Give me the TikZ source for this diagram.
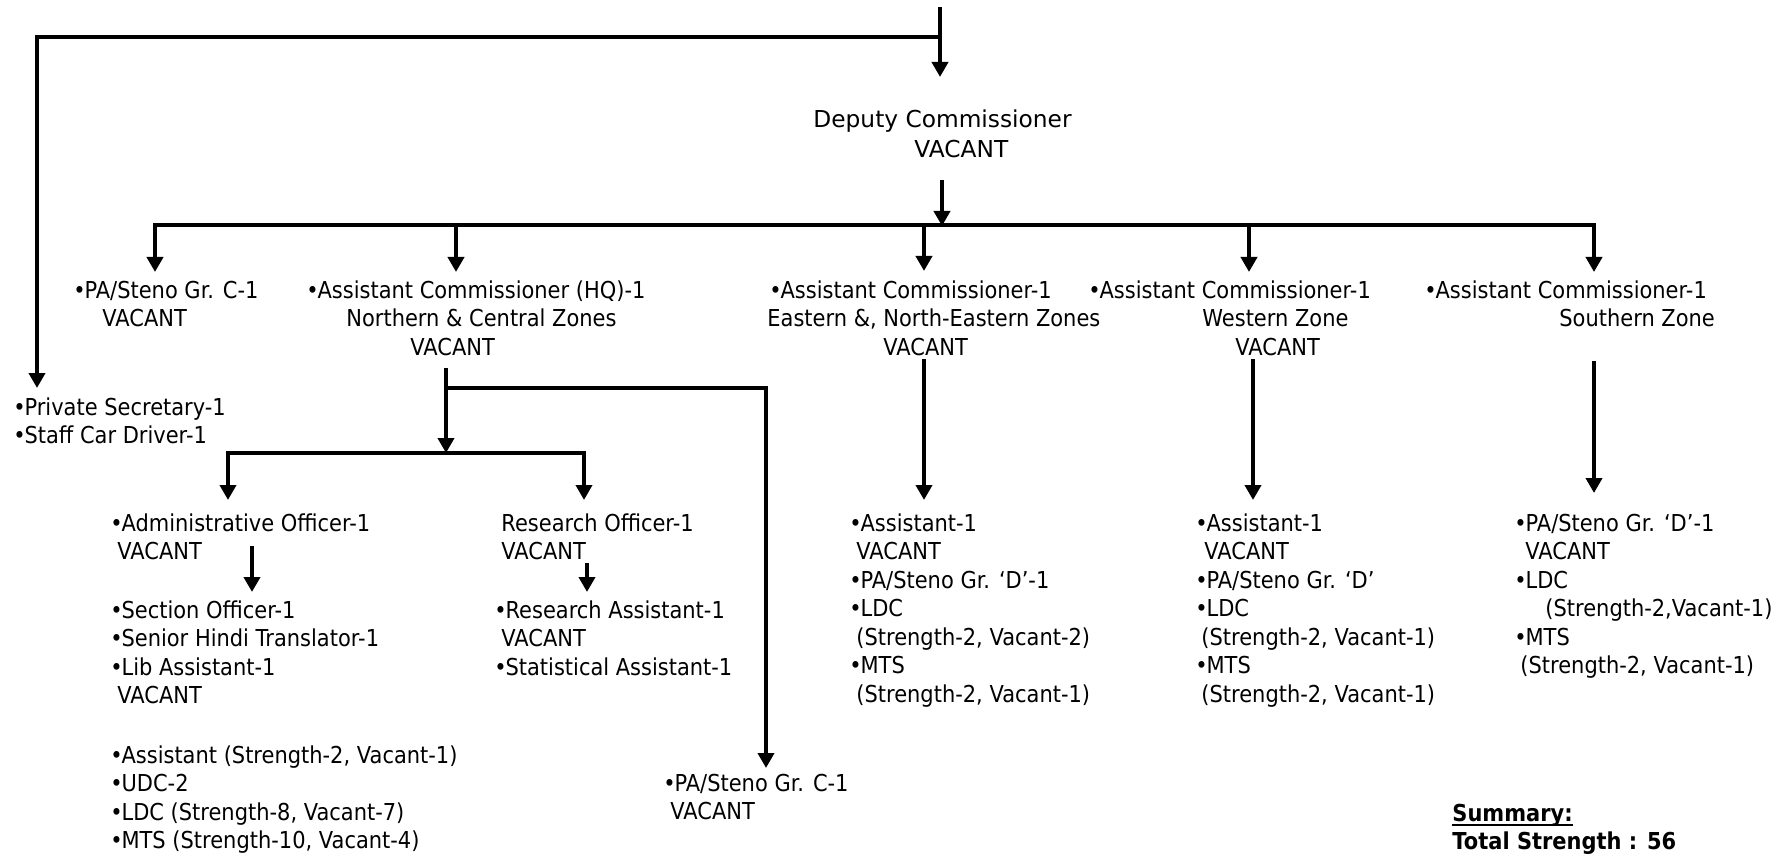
\documentclass[tikz,border=0pt]{standalone}
\usepackage{fontspec}
\setmainfont[FakeStretch=0.9]{DejaVu Sans}
\newfontfamily\widefont{DejaVu Sans}
\usetikzlibrary{arrows.meta}
\newcommand\bu{•\kern-0.6pt}
\newcommand\myul[1]{\setbox0\hbox{#1}\rlap{\rule[-2.4pt]{\wd0}{1.2pt}}\box0}
\begin{document}
\begin{tikzpicture}[x=0.5pt,y=-0.5pt,
  txt/.style={anchor=north west, inner sep=0pt, align=left, font=\fontsize{11.65pt}{14.25pt}\selectfont},
  conn/.style={line width=2pt},
  arr/.style={conn,-{Triangle[width=8pt,length=7.5pt]}},
]
\useasboundingbox (0,0) rectangle (1791,855);

% ---------- text nodes ----------
\node[txt,font=\widefont\fontsize{11.65pt}{15pt}\selectfont] (dc) at (813,106) {\strut Deputy Commissioner\\\hspace*{50.5pt}VACANT};
\node[txt] (pa1) at (73,278) {\strut \bu PA/Steno Gr. C-1\\\hspace*{14.5pt}VACANT};
\node[txt] (hq) at (306,278) {\strut \bu Assistant Commissioner (HQ)-1\\\hspace*{20pt}Northern \& Central Zones\\\hspace*{52pt}VACANT};
\node[txt] (east) at (767,278) {\strut \hspace*{1pt}\bu Assistant Commissioner-1\\Eastern \&, North-Eastern Zones\\\hspace*{58pt}VACANT};
\node[txt] (west) at (1088,278) {\strut \bu Assistant Commissioner-1\\\hspace*{57pt}Western Zone\\\hspace*{73.5pt}VACANT};
\node[txt] (south) at (1424,278) {\strut \bu Assistant Commissioner-1\\\hspace*{67.5pt}Southern Zone};
\node[txt] (ps) at (13,395) {\strut \bu Private Secretary-1\\\bu Staff Car Driver-1};
\node[txt] (ao) at (110,511) {\strut \bu Administrative Officer-1\\\hspace*{3.5pt}VACANT};
\node[txt] (ro) at (501,511) {\strut Research Officer-1\\VACANT};
\node[txt] (so) at (110,598) {\strut \bu Section Officer-1\\\bu Senior Hindi Translator-1\\\bu Lib Assistant-1\\\hspace*{3.5pt}VACANT};
\node[txt] (ra) at (494,598) {\strut \bu Research Assistant-1\\\hspace*{3.5pt}VACANT\\\bu Statistical Assistant-1};
\node[txt] (hqstaff) at (110,743) {\strut \bu Assistant (Strength-2, Vacant-1)\\\bu UDC-2\\\bu LDC (Strength-8, Vacant-7)\\\bu MTS (Strength-10, Vacant-4)};
\node[txt] (pa2) at (663,771) {\strut \bu PA/Steno Gr. C-1\\\hspace*{3.5pt}VACANT};
\node[txt] (eaststaff) at (849,511) {\strut \bu Assistant-1\\\hspace*{3.5pt}VACANT\\\bu PA/Steno Gr. ‘D’-1\\\bu LDC\\\hspace*{3.5pt}(Strength-2, Vacant-2)\\\bu MTS\\\hspace*{3.5pt}(Strength-2, Vacant-1)};
\node[txt] (weststaff) at (1195,511) {\strut \bu Assistant-1\\\hspace*{4.5pt}VACANT\\\bu PA/Steno Gr. ‘D’\\\bu LDC\\\hspace*{3pt}(Strength-2, Vacant-1)\\\bu MTS\\\hspace*{3pt}(Strength-2, Vacant-1)};
\node[txt] (southstaff) at (1514,511) {\strut \bu PA/Steno Gr. ‘D’-1\\\hspace*{5.5pt}VACANT\\\bu LDC\\\hspace*{15.5pt}(Strength-2,Vacant-1)\\\bu MTS\\\hspace*{3pt}(Strength-2, Vacant-1)};
\node[txt,font=\fontsize{11.65pt}{14.25pt}\selectfont\bfseries] (sum) at (1452,801) {\strut \myul{Summary:}\\Total Strength : 56};

% ---------- junction coordinates ----------
\coordinate (top) at (940,7);
\coordinate (topj) at (940,37);
\coordinate (dcin) at (940,77);
\coordinate (psl) at (37,37);
\coordinate (psin) at (37,388);
\coordinate (dcout) at (942,180);
\coordinate (busc) at (942,226);
\coordinate (busl) at (155,225);
\coordinate (busr) at (1594,225);
\coordinate (pa1in) at (155,272);
\coordinate (hqj) at (456,225);
\coordinate (hqin) at (456,272);
\coordinate (eastj) at (924,225);
\coordinate (eastin) at (924,271);
\coordinate (westj) at (1249,225);
\coordinate (westin) at (1249,272);
\coordinate (southin) at (1594,272);
\coordinate (hqout) at (446,368);
\coordinate (hqr) at (446,388);
\coordinate (pa2j) at (766,388);
\coordinate (pa2in) at (766,768);
\coordinate (subc) at (446,453);
\coordinate (subl) at (228,453);
\coordinate (subr) at (584,453);
\coordinate (aoin) at (228,500);
\coordinate (roin) at (584,500);
\coordinate (aoout) at (252,546);
\coordinate (soin) at (252,592);
\coordinate (roout) at (587,563);
\coordinate (rain) at (587,592);
\coordinate (eastout) at (924,359);
\coordinate (eastsin) at (924,500);
\coordinate (westout) at (1253,359);
\coordinate (westsin) at (1253,500);
\coordinate (southout) at (1594,361);
\coordinate (southsin) at (1594,493);

% ---------- connectors ----------
\draw[arr] (top) -- (dcin);
\draw[arr] (topj) -- (psl) -- (psin);
\draw[arr] (dcout) -- (busc);
\draw[conn] (busl) -- (busr);
\draw[arr] ([yshift=1pt]busl) -- (pa1in);
\draw[arr] (hqj) -- (hqin);
\draw[arr] (eastj) -- (eastin);
\draw[arr] (westj) -- (westin);
\draw[arr] ([yshift=1pt]busr) -- (southin);
\draw[arr] (hqout) -- (subc);
\draw[arr] (hqr) -- (pa2j) -- (pa2in);
\draw[conn] (subl) -- (subr);
\draw[arr] ([yshift=1pt]subl) -- (aoin);
\draw[arr] ([yshift=1pt]subr) -- (roin);
\draw[arr] (aoout) -- (soin);
\draw[arr] (roout) -- (rain);
\draw[arr] (eastout) -- (eastsin);
\draw[arr] (westout) -- (westsin);
\draw[arr] (southout) -- (southsin);
\end{tikzpicture}
\end{document}
